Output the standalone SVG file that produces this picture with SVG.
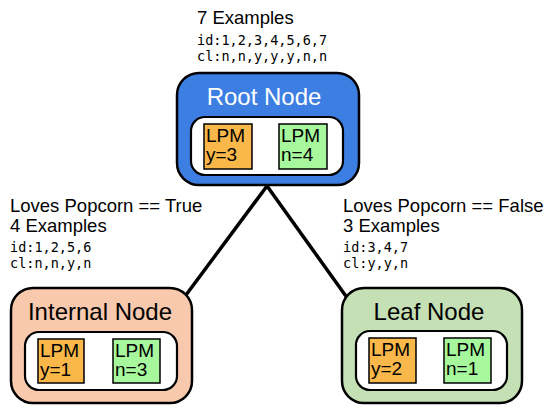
<svg xmlns="http://www.w3.org/2000/svg" width="550" height="414" viewBox="0 0 550 414">
<style>
.t{font-family:"Liberation Sans",Arial,sans-serif;fill:#000}
.lab{font-size:18.5px}
.mono{font-family:"DejaVu Sans Mono","Liberation Mono",monospace;font-size:13.5px;fill:#000}
.title{font-family:"Liberation Sans",Arial,sans-serif;font-size:24px;text-anchor:middle}
.lpm{font-family:"Liberation Sans",Arial,sans-serif;font-size:19px;fill:#000}
.outer{stroke:#000;stroke-width:2.5}
.inner{fill:#fff;stroke:#000;stroke-width:2.2}
.yes{fill:#fab84b;stroke:#000;stroke-width:1.5}
.no{fill:#a7f79c;stroke:#000;stroke-width:1.5}
.edge{stroke:#000;stroke-width:3.5;fill:none}
</style>
<rect width="550" height="414" fill="#fff"/>
<g id="connectors">
<line class="edge" x1="267" y1="186" x2="183" y2="299"/>
<line class="edge" x1="267" y1="186" x2="348" y2="299"/>
</g>
<g id="root">
<rect class="outer" x="177" y="73" width="182" height="112" rx="22" fill="#3d7ee3"/>
<text class="title" x="264" y="105" fill="#fff">Root Node</text>
<rect class="inner" x="191" y="117" width="152" height="58" rx="14"/>
<rect class="yes" x="204" y="124" width="48" height="45"/>
<text class="lpm" x="206" y="142">LPM</text>
<text class="lpm" x="206" y="161">y=3</text>
<rect class="no" x="279" y="124" width="48" height="45"/>
<text class="lpm" x="281" y="142">LPM</text>
<text class="lpm" x="281" y="161">n=4</text>
</g>
<g id="root-label">
<text class="t lab" x="197" y="24">7 Examples</text>
<text class="mono" x="197" y="45">id:1,2,3,4,5,6,7</text>
<text class="mono" x="197" y="61">cl:n,n,y,y,y,n,n</text>
</g>
<g id="internal">
<rect class="outer" x="11" y="288" width="181" height="115" rx="22" fill="#f8c9ad"/>
<text class="title" x="100" y="320" fill="#000">Internal Node</text>
<rect class="inner" x="25" y="332" width="152" height="58" rx="14"/>
<rect class="yes" x="38" y="339" width="46" height="44"/>
<text class="lpm" x="40" y="357">LPM</text>
<text class="lpm" x="40" y="376">y=1</text>
<rect class="no" x="113" y="339" width="47" height="44"/>
<text class="lpm" x="115" y="357">LPM</text>
<text class="lpm" x="115" y="376">n=3</text>
</g>
<g id="internal-label">
<text class="t lab" x="10" y="212">Loves Popcorn == True</text>
<text class="t lab" x="10" y="232">4 Examples</text>
<text class="mono" x="10" y="252">id:1,2,5,6</text>
<text class="mono" x="10" y="268">cl:n,n,y,n</text>
</g>
<g id="leaf">
<rect class="outer" x="342" y="288" width="180" height="115" rx="22" fill="#c5e0b4"/>
<text class="title" x="429" y="320" fill="#000">Leaf Node</text>
<rect class="inner" x="356" y="331" width="151" height="59" rx="14"/>
<rect class="yes" x="369" y="338" width="47" height="45"/>
<text class="lpm" x="371" y="356">LPM</text>
<text class="lpm" x="371" y="375">y=2</text>
<rect class="no" x="444" y="338" width="47" height="45"/>
<text class="lpm" x="446" y="356">LPM</text>
<text class="lpm" x="446" y="375">n=1</text>
</g>
<g id="leaf-label">
<text class="t lab" x="343" y="212">Loves Popcorn == False</text>
<text class="t lab" x="343" y="232">3 Examples</text>
<text class="mono" x="343" y="252">id:3,4,7</text>
<text class="mono" x="343" y="268">cl:y,y,n</text>
</g>
</svg>
